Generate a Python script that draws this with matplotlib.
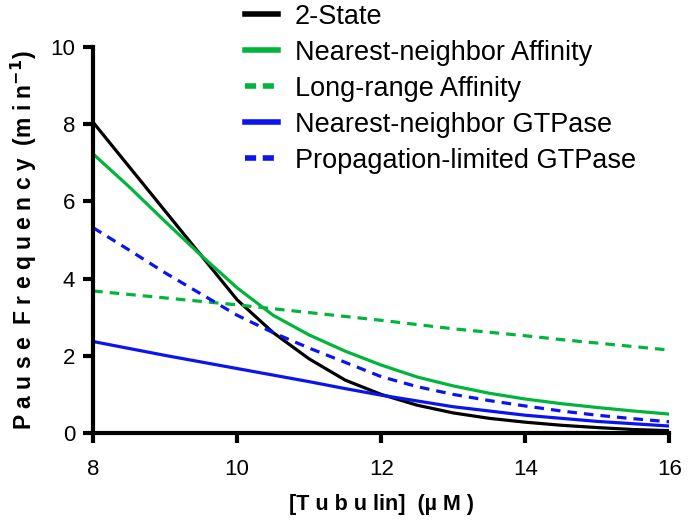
import numpy as np
import matplotlib.pyplot as plt

plt.rcParams['font.family'] = ['Liberation Sans', 'DejaVu Sans']

# tubulin concentration (uM) and pause frequency (1/min) for each model
tubulin = [8, 8.5, 9, 9.5, 10, 10.5, 11, 11.5, 12, 12.5, 13, 13.5, 14, 14.5, 15, 15.5, 16]
two_state = [8.05, 6.9, 5.75, 4.6, 3.45, 2.6, 1.92, 1.37, 1.0, 0.72, 0.52, 0.38, 0.28, 0.2, 0.14, 0.09, 0.06]
nn_affinity = [7.23, 6.38, 5.48, 4.6, 3.76, 3.05, 2.54, 2.12, 1.76, 1.45, 1.22, 1.03, 0.88, 0.76, 0.66, 0.57, 0.49]
lr_affinity = [3.68, 3.59, 3.5, 3.41, 3.32, 3.22, 3.12, 3.02, 2.92, 2.81, 2.7, 2.61, 2.52, 2.42, 2.33, 2.24, 2.15]
nn_gtpase = [2.37, 2.19, 2.01, 1.84, 1.67, 1.5, 1.33, 1.15, 0.98, 0.83, 0.68, 0.57, 0.46, 0.38, 0.3, 0.24, 0.18]
prop_gtpase = [5.32, 4.74, 4.15, 3.6, 3.05, 2.6, 2.2, 1.83, 1.46, 1.2, 1.0, 0.84, 0.7, 0.57, 0.46, 0.37, 0.29]

green = '#00b43c'
blue = '#0a14f0'

fig = plt.figure(figsize=(6.95, 5.29), dpi=100)
ax = fig.add_axes([0.134, 0.1815, 0.829, 0.7295])

lw = 2.3
ax.plot(tubulin, two_state, color='black', lw=lw, label='2-State')
ax.plot(tubulin, nn_affinity, color=green, lw=lw, label='Nearest-neighbor Affinity')
ax.plot(tubulin, lr_affinity, color=green, lw=lw, dashes=(3, 2.2), label='Long-range Affinity')
ax.plot(tubulin, nn_gtpase, color=blue, lw=lw, label='Nearest-neighbor GTPase')
ax.plot(tubulin, prop_gtpase, color=blue, lw=lw, dashes=(3, 2.2), label='Propagation-limited GTPase')

ax.set_xlim(8, 16)
ax.set_ylim(0, 10)
ax.set_xticks([8, 10, 12, 14, 16])
ax.set_yticks([0, 2, 4, 6, 8, 10])
for s in ['top', 'right']:
    ax.spines[s].set_visible(False)
for s in ['left', 'bottom']:
    ax.spines[s].set_linewidth(3)
ax.tick_params(width=3, length=7, labelsize=16, pad=6)
ax.tick_params(axis='x', pad=12)

ax.set_xlabel('[T u b u lin]  (µ M )', fontsize=15.5, fontweight='bold', labelpad=10)
ax.set_ylabel('P a u s e  F r e q u e n c y  (m i n$^{\\mathbf{-1}}$)', fontsize=16.5,
              fontweight='bold', labelpad=8)

leg = ax.legend(loc='upper left', bbox_to_anchor=(0.245, 1.14), frameon=False,
                fontsize=19.5, handlelength=1.2, handletextpad=0.63, labelspacing=0.37,
                borderaxespad=0)
# thicker, short-dotted handles in the legend
for h in leg.get_lines():
    h.set_linewidth(4)
    if h.get_linestyle() != '-':
        h.set_dashes((2, 1.2))

fig.savefig('out.png', dpi=100)
